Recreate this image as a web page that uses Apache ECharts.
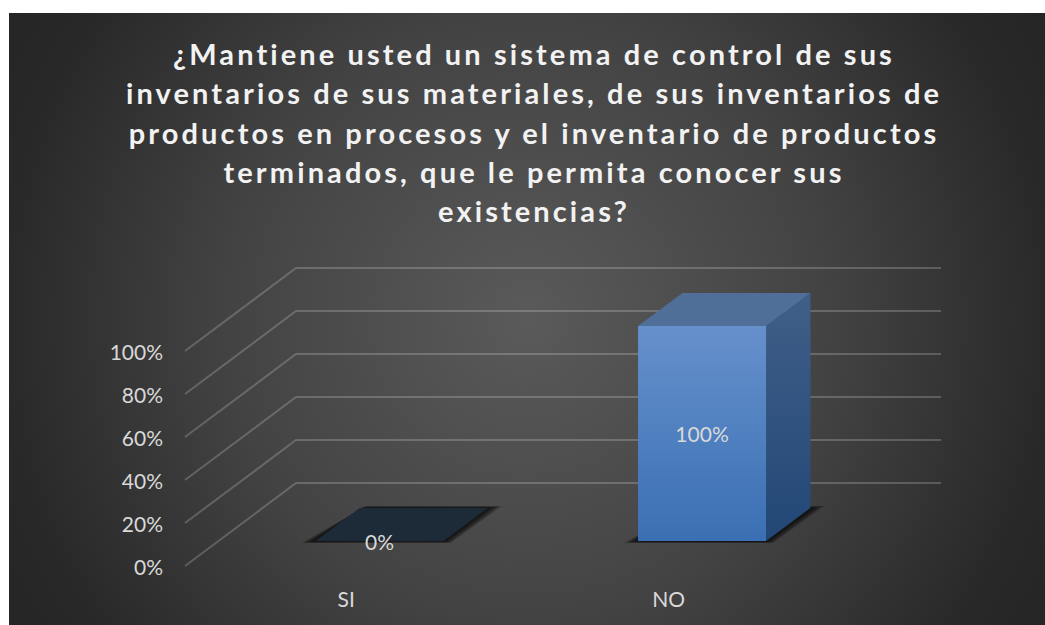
<!DOCTYPE html>
<html>
<head>
<meta charset="utf-8">
<style>
  html, body { margin: 0; padding: 0; background: #ffffff; }
  #chart { width: 1045px; height: 625px; }
  /* Only the bold title text is tracked out */
  #chart svg text[style*="bold"] { letter-spacing: 3.1px; }
</style>
<script src="https://cdn.jsdelivr.net/npm/echarts@6/dist/echarts.min.js"></script>
</head>
<body>
<div id="chart"></div>
<script>
const titleLines = [
  '¿Mantiene usted un sistema de control de sus',
  'inventarios de sus materiales, de sus inventarios de',
  'productos en procesos y el inventario de productos',
  'terminados, que le permita conocer sus',
  'existencias?'
];
const categories = ['SI', 'NO'];
const shares = [0, 100];
const gridValues = [0, 20, 40, 60, 80, 100];

// Oblique projection: how far the floor recedes, and where the bars sit in it
const DEPTH_X = 111, DEPTH_Y = -83;
const BAR_NEAR = 0.3, BAR_FAR = 0.7, BAR_WIDTH = 0.397;
const FONT = 'Lato, "Open Sans", sans-serif';
// Stacked outlines that fade the floor shadow outwards
const SHADOW_SPREAD = [14, 11.5, 9, 6.5, 4];

function shift(pt, t) {
  return [pt[0] + DEPTH_X * t, pt[1] + DEPTH_Y * t];
}
function vertical(top, bottom) {
  return new echarts.graphic.LinearGradient(0, 0, 0, 1, [
    { offset: 0, color: top }, { offset: 1, color: bottom }
  ]);
}

function renderGridLine(params, api) {
  const cs = params.coordSys;
  const y = api.coord([0, api.value(1)])[1];
  const front = [cs.x, y];
  const back = shift(front, 1);
  return {
    type: 'polyline',
    shape: { points: [front, back, [cs.x + cs.width + DEPTH_X, back[1]]] },
    style: { fill: 'none', stroke: 'rgba(255,255,255,0.2)', lineWidth: 2 },
    silent: true
  };
}

function renderBar(params, api) {
  const value = api.value(1);
  const base = api.coord([api.value(0), 0]);
  const top = api.coord([api.value(0), value]);
  const half = api.size([1, 0])[0] * BAR_WIDTH / 2;
  const corner = (dx, y, t) => shift([base[0] + dx, y], t);

  const fl = corner(-half, base[1], BAR_NEAR), fr = corner(half, base[1], BAR_NEAR);
  const bl = corner(-half, base[1], BAR_FAR), br = corner(half, base[1], BAR_FAR);
  const tfl = corner(-half, top[1], BAR_NEAR), tfr = corner(half, top[1], BAR_NEAR);
  const tbl = corner(-half, top[1], BAR_FAR), tbr = corner(half, top[1], BAR_FAR);

  const children = SHADOW_SPREAD.map(s => ({
    type: 'polygon',
    shape: { points: [
      [fl[0] - s, fl[1] + s * 0.14],
      [fr[0] + s * 0.5, fr[1] + s * 0.14],
      [br[0] + s, br[1] - s * 0.14],
      [bl[0] + s * 0.5, bl[1] - s * 0.14]
    ] },
    style: { fill: 'rgba(0,0,0,0.2)' }
  }));

  if (value > 0) {
    children.push(
      { type: 'polygon', shape: { points: [tfr, tbr, br, fr] },
        style: { fill: vertical('#405f88', '#224776') } },
      { type: 'polygon', shape: { points: [tfl, tbl, tbr, tfr] },
        style: { fill: '#4f6f98' } },
      { type: 'polygon', shape: { points: [tfl, tfr, fr, fl] },
        style: { fill: vertical('#6690cc', '#3a70b3') } }
    );
  } else {
    children.push({ type: 'polygon', shape: { points: [fl, fr, br, bl] },
      style: { fill: '#1d2a38' } });
  }

  children.push({
    type: 'text',
    style: {
      text: value + '%',
      x: (tfl[0] + tfr[0]) / 2,
      y: (tfl[1] + fl[1]) / 2,
      align: 'center',
      verticalAlign: 'middle',
      fill: '#d9d9d9',
      font: '21px ' + FONT
    }
  });
  return { type: 'group', children };
}

const chart = echarts.init(document.getElementById('chart'), null, { renderer: 'svg' });
chart.setOption({
  animation: false,
  graphic: [{
    // dark panel with a soft central glow
    type: 'rect',
    z: -10,
    silent: true,
    shape: { x: 9, y: 13, width: 1036, height: 612 },
    style: {
      fill: new echarts.graphic.RadialGradient(527, 319, 600, [
        { offset: 0, color: '#5a5a5a' },
        { offset: 0.5, color: '#434343' },
        { offset: 0.87, color: '#292929' },
        { offset: 1, color: '#252525' }
      ], true)
    }
  }],
  title: {
    text: titleLines.join('\n'),
    left: 529,
    top: 29,
    textAlign: 'center',
    textStyle: { color: '#f2f2f2', fontFamily: FONT, fontSize: 29, fontWeight: 'bold', lineHeight: 39.2 }
  },
  grid: { left: 185, top: 351, width: 645, height: 215 },
  xAxis: {
    type: 'category',
    data: categories,
    axisLine: { show: false },
    axisTick: { show: false },
    axisLabel: { color: '#d9d9d9', fontFamily: FONT, fontSize: 21, margin: 22 }
  },
  yAxis: {
    type: 'value',
    min: 0,
    max: 100,
    interval: 20,
    axisLine: { show: false },
    axisTick: { show: false },
    splitLine: { show: false },
    axisLabel: { color: '#d9d9d9', fontFamily: FONT, fontSize: 21, margin: 22, formatter: '{value}%' }
  },
  series: [
    {
      type: 'custom',
      name: 'Cuadrícula',
      renderItem: renderGridLine,
      data: gridValues.map(v => [0, v]),
      encode: { x: 0, y: 1 },
      clip: false,
      silent: true,
      z: 1
    },
    {
      type: 'custom',
      name: 'Respuestas',
      renderItem: renderBar,
      data: categories.map((c, i) => [i, shares[i]]),
      encode: { x: 0, y: 1 },
      clip: false,
      silent: true,
      z: 2
    }
  ]
});
</script>
</body>
</html>
